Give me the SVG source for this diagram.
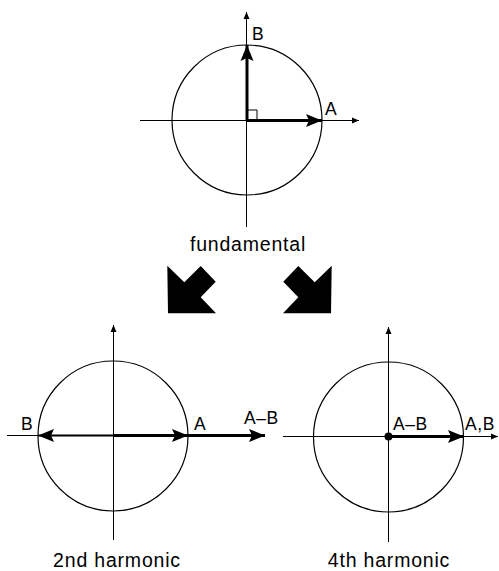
<svg xmlns="http://www.w3.org/2000/svg" width="499" height="571" viewBox="0 0 499 571">
<style>
.circ{fill:none;stroke:#000;stroke-width:1.2}
.axis{fill:none;stroke:#000;stroke-width:1}
.vec{fill:none;stroke:#000;stroke-width:3}
.lbl{font-family:"Liberation Sans",Arial,sans-serif;font-size:17.5px;fill:#000;letter-spacing:0.6px}
.cap{font-family:"Liberation Sans",Arial,sans-serif;font-size:19.5px;fill:#000;letter-spacing:0.8px;text-anchor:middle}
</style>
<defs>
<marker id="big" viewBox="-17 -7 17 14" refX="0" refY="0" markerWidth="17" markerHeight="14" markerUnits="userSpaceOnUse" orient="auto-start-reverse">
<path d="M0,0 L-16,-6.5 L-13,0 L-16,6.5 Z" fill="#000"/>
</marker>
<marker id="small" viewBox="-8 -4 8 8" refX="0" refY="0" markerWidth="8" markerHeight="8" markerUnits="userSpaceOnUse" orient="auto">
<path d="M0,0 L-7,-3 L-7,3 Z" fill="#000"/>
</marker>
</defs>

<g id="fundamental">
<circle class="circ" cx="247" cy="120" r="75"/>
<line class="axis" x1="140" y1="120.5" x2="359" y2="120.5" marker-end="url(#small)"/>
<line class="axis" x1="246.5" y1="227" x2="246.5" y2="12" marker-end="url(#small)"/>
<polyline class="axis" points="247,110 257,110 257,120"/>
<line class="vec" x1="247" y1="120.5" x2="247" y2="45" marker-end="url(#big)"/>
<line class="vec" x1="247" y1="120.5" x2="322" y2="120.5" marker-end="url(#big)"/>
<text class="lbl" x="252" y="40">B</text>
<text class="lbl" x="325" y="115">A</text>
<text class="cap" x="248" y="251">fundamental</text>
</g>

<g id="second-harmonic">
<circle class="circ" cx="113" cy="436" r="75"/>
<line class="axis" x1="7" y1="435.5" x2="38" y2="435.5"/>
<line class="axis" x1="113.5" y1="540" x2="113.5" y2="325" marker-end="url(#small)"/>
<line fill="none" stroke="#000" stroke-width="2.2" x1="38" y1="435.5" x2="113" y2="435.5" marker-start="url(#big)"/>
<line class="vec" x1="113" y1="435.5" x2="188" y2="435.5" marker-end="url(#big)"/>
<line class="vec" x1="188" y1="435.5" x2="265" y2="435.5" marker-end="url(#big)"/>
<text class="lbl" x="21" y="430">B</text>
<text class="lbl" x="194" y="430">A</text>
<text class="lbl" x="244" y="424">A–B</text>
<text class="cap" x="117" y="567">2nd harmonic</text>
</g>

<g id="fourth-harmonic">
<circle class="circ" cx="388.5" cy="437" r="75"/>
<line class="axis" x1="283" y1="436.5" x2="498" y2="436.5" marker-end="url(#small)"/>
<line class="axis" x1="388.5" y1="542" x2="388.5" y2="327" marker-end="url(#small)"/>
<line class="vec" x1="388.5" y1="436.5" x2="464" y2="436.5" marker-end="url(#big)"/>
<circle cx="388.5" cy="436.5" r="4" fill="#000"/>
<text class="lbl" x="393" y="430">A–B</text>
<text class="lbl" x="465" y="430">A,B</text>
<text class="cap" x="389" y="567">4th harmonic</text>
</g>

<g id="connectors">
<path d="M167.3,265.7 L184.3,282.3 L200.7,266 L215.7,281.7 L200.7,297.3 L216,313.3 L168,313.3 Z" fill="#000"/>
<path d="M331.7,265.7 L314.7,282.3 L298.3,266 L283.3,281.7 L298.3,297.3 L283,313.3 L331,313.3 Z" fill="#000"/>
</g>
</svg>
